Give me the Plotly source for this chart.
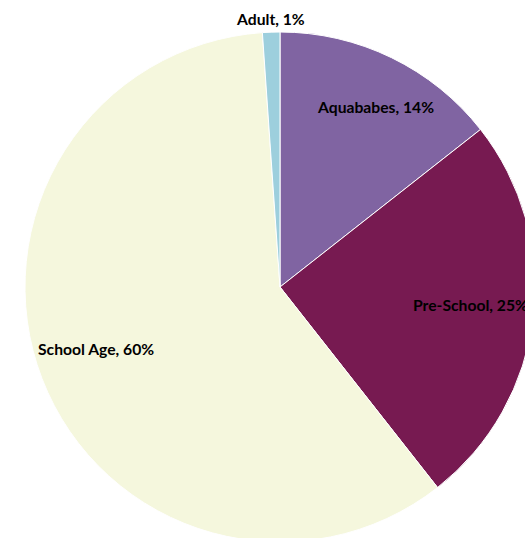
import math
import plotly.graph_objects as go

# Data
categories = ["Aquababes", "Pre-School", "School Age", "Adult"]
values = [14.4, 25.0, 59.5, 1.1]
colors = ["#8064A2", "#771A51", "#F5F7DD", "#9DCFDD"]

# Layout geometry (pixels)
W, H = 545, 550
CX, CY, R = 280, 287, 255
label_r = [0.80, 0.75, 0.763, 1.052]      # label radius as fraction of R
label_dang = [2.0, -1.4, 2.5, -0.1]        # angular nudge in degrees

fig = go.Figure(go.Pie(
    labels=categories,
    values=values,
    sort=False,
    direction="clockwise",
    rotation=0,
    marker=dict(colors=colors, line=dict(color="white", width=1)),
    textinfo="none",
    hoverinfo="label+percent",
    showlegend=False,
    domain=dict(x=[(CX - R) / W, (CX + R) / W], y=[1 - (CY + R) / H, 1 - (CY - R) / H]),
))

total = sum(values)
cum = 0.0
for cat, v, lr, da in zip(categories, values, label_r, label_dang):
    mid = (cum + v / 2) / total * 2 * math.pi + math.radians(da)
    cum += v
    px = CX + lr * R * math.sin(mid)
    py = CY - lr * R * math.cos(mid)
    fig.add_annotation(
        x=px / W, y=1 - py / H, xref="paper", yref="paper",
        text=f"<b>{cat}, {round(v / total * 100)}%</b>",
        showarrow=False, xanchor="center", yanchor="middle",
        font=dict(family="Lato", size=15.7, color="#000000"),
    )

fig.update_layout(
    width=W, height=H,
    margin=dict(l=0, r=0, t=0, b=0),
    paper_bgcolor="white",
    plot_bgcolor="white",
)

fig.write_html(
    "out.html",
    config={"displayModeBar": False},
    post_script="document.body.style.margin='0';document.body.style.overflow='hidden';document.documentElement.style.overflow='hidden';",
)
